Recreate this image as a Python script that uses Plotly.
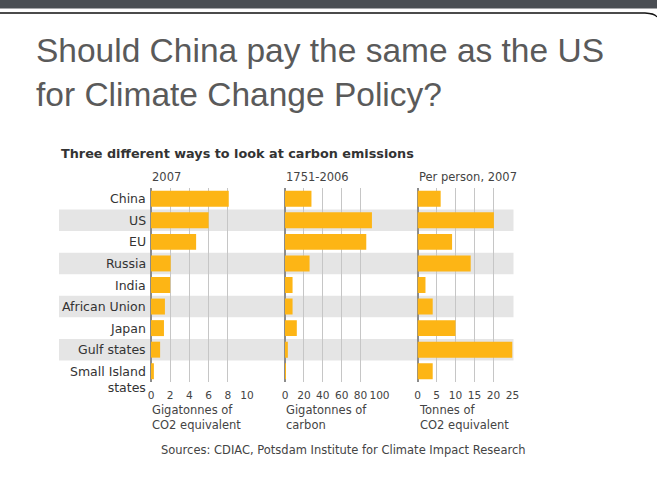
import plotly.graph_objects as go

# ---- data ----
categories = ["China", "US", "EU", "Russia", "India", "African Union",
              "Japan", "Gulf states", "Small Island states"]
category_labels = ["China", "US", "EU", "Russia", "India", "African Union",
                   "Japan", "Gulf states", "Small Island<br>states"]
emissions_2007 = [8.1, 6.0, 4.7, 2.05, 2.0, 1.45, 1.35, 0.95, 0.3]          # Gt CO2e
emissions_1751_2006 = [28, 92, 86, 26, 8, 8, 12.5, 3, 1]                     # Gt carbon
per_person_2007 = [6.1, 20.1, 9.1, 14.0, 2.1, 4.0, 10.0, 25, 4.0]           # t CO2e

panel_headers = ["2007", "1751-2006", "Per person, 2007"]
panel_units = ["Gigatonnes of<br>CO2 equivalent", "Gigatonnes of<br>carbon",
               "Tonnes of<br>CO2 equivalent"]
panel_ranges = [[0, 10], [0, 100], [0, 25]]
panel_ticks = [[0, 2, 4, 6, 8, 10], [0, 20, 40, 60, 80, 100], [0, 5, 10, 15, 20, 25]]
panel_values = [emissions_2007, emissions_1751_2006, per_person_2007]

title_text = "Should China pay the same as the US<br>for Climate Change Policy?"
chart_title = "Three different ways to look at carbon emissions"
source_text = "Sources: CDIAC, Potsdam Institute for Climate Impact Research"

# ---- layout geometry (pixels) ----
W, H = 657, 485
def px(x): return x / W
def py(y): return 1 - y / H

panel_px = [(151, 247), (285, 379.5), (417.5, 512.5)]
plot_top, plot_bot = 188, 382

BAR = "#FDB515"
BAND = "#e5e5e5"
FONT = "DejaVu Sans, Verdana, sans-serif"

fig = go.Figure()
xnames = ["x", "x2", "x3"]
ynames = ["y", "y2", "y3"]
for i, vals in enumerate(panel_values):
    fig.add_trace(go.Bar(
        x=vals, y=categories, orientation="h",
        xaxis=xnames[i], yaxis=ynames[i],
        marker=dict(color=BAR, line=dict(width=0)),
        width=0.74, showlegend=False, hoverinfo="x+y"))

layout = dict(
    width=W, height=H,
    margin=dict(l=0, r=0, t=0, b=0, autoexpand=False),
    paper_bgcolor="white", plot_bgcolor="rgba(0,0,0,0)",
    font=dict(family=FONT, color="#333333"),
)
for i in range(3):
    xkey = "xaxis" if i == 0 else f"xaxis{i+1}"
    ykey = "yaxis" if i == 0 else f"yaxis{i+1}"
    layout[xkey] = dict(
        domain=[px(panel_px[i][0]), px(panel_px[i][1])],
        range=panel_ranges[i],
        tickmode="array", tickvals=panel_ticks[i],
        ticktext=[str(t) for t in panel_ticks[i]],
        tickfont=dict(size=10.6, color="#444444", family=FONT),
        tickangle=0,
        showgrid=True, gridcolor="#c6c6c6", gridwidth=1,
        zeroline=True, zerolinecolor="#8c8c8c", zerolinewidth=1.5,
        showline=False, ticks="", ticklabelstandoff=5,
        anchor=ynames[i], automargin=False, fixedrange=True,
    )
    layout[ykey] = dict(
        domain=[py(plot_bot), py(plot_top)],
        categoryorder="array", categoryarray=categories,
        autorange="reversed",
        showticklabels=False,
        showgrid=False, zeroline=False, showline=False, ticks="",
        anchor=xnames[i], automargin=False, fixedrange=True,
    )
fig.update_layout(**layout)

shapes = []
# alternating gray row bands spanning all panels
for idx in [1, 3, 5, 7]:
    shapes.append(dict(type="rect", xref="paper", yref="y",
                       x0=px(59), x1=px(513.5), y0=idx - 0.5, y1=idx + 0.5,
                       fillcolor=BAND, line=dict(width=0), layer="below"))
# top dark header strip and frame line
shapes.append(dict(type="rect", xref="paper", yref="paper",
                   x0=0, x1=1, y0=py(8.5), y1=1,
                   fillcolor="#4a4e53", line=dict(width=0), layer="above"))
shapes.append(dict(type="path", xref="paper", yref="paper",
                   path=f"M 0 {py(13)} L {px(645)} {py(13)} Q {px(655)} {py(13.5)} {px(657)} {py(17)}",
                   line=dict(color="#111111", width=1.3), layer="above"))
fig.update_layout(shapes=shapes)

annotations = [
    dict(text=title_text, x=px(34), y=py(30), xref="paper", yref="paper",
         xanchor="left", yanchor="top", align="left", showarrow=False,
         font=dict(family="Liberation Sans, Arial, sans-serif", size=33.5, color="#5a5a5a")),
    dict(text=f"<b>{chart_title}</b>", x=px(59), y=py(153.5), xref="paper", yref="paper",
         xanchor="left", yanchor="middle", showarrow=False,
         font=dict(family=FONT, size=12.8, color="#333333")),
    dict(text=source_text, x=px(343), y=py(450), xref="paper", yref="paper",
         xanchor="center", yanchor="middle", showarrow=False,
         font=dict(family=FONT, size=11.5, color="#444444")),
]
# category labels on the shared row positions
for cat, lab in zip(categories, category_labels):
    multi = "<br>" in lab
    annotations.append(dict(text=lab, x=px(148), y=cat, xref="paper", yref="y",
                            xanchor="right", yanchor="top" if multi else "middle",
                            yshift=9 if multi else 0, align="right", showarrow=False,
                            font=dict(family=FONT, size=12.5, color="#333333")))
for i in range(3):
    annotations.append(dict(text=panel_headers[i], x=px(panel_px[i][0] - 1), y=py(177),
                            xref="paper", yref="paper", xanchor="left", yanchor="middle",
                            showarrow=False, font=dict(family=FONT, size=11.5, color="#444444")))
    annotations.append(dict(text=panel_units[i], x=px(panel_px[i][0] - 1), y=py(401),
                            xref="paper", yref="paper", xanchor="left", yanchor="top",
                            align="left", showarrow=False,
                            font=dict(family=FONT, size=11.5, color="#444444")))
fig.update_layout(annotations=annotations)

fig.write_html("out.html", config={"displayModeBar": False},
               post_script="document.body.style.margin='0px';")
